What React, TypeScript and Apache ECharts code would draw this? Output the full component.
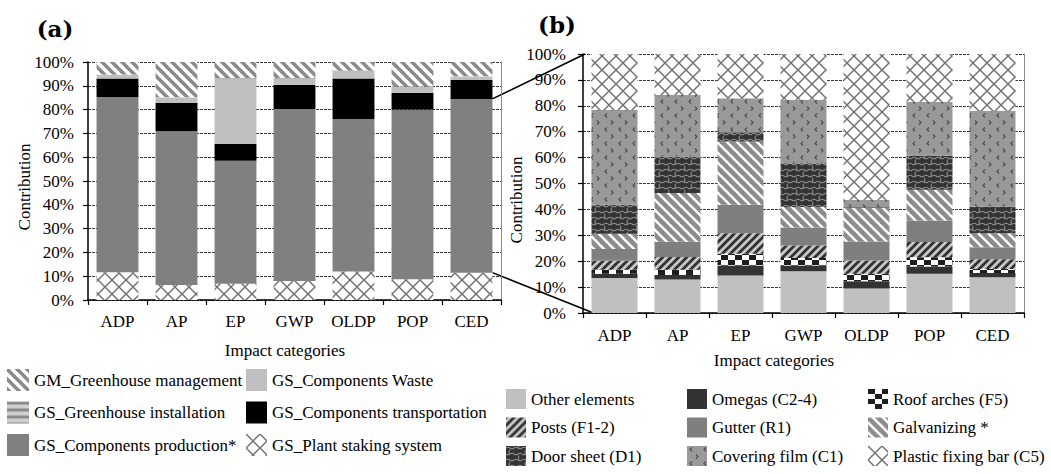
import React, { useEffect, useRef } from "react";
import * as echarts from "echarts";

// Impact categories shared by both panels
const categories = ["ADP", "AP", "EP", "GWP", "OLDP", "POP", "CED"];

// Panel (a): greenhouse stages, % of each impact category
const plantStaking = [11.7, 6.3, 6.8, 8.0, 12.0, 8.7, 11.5];
const componentsProduction = [73.6, 64.6, 51.7, 72.3, 64.0, 71.3, 73.0];
const componentsTransport = [7.8, 11.9, 7.2, 10.0, 17.1, 7.0, 7.9];
const componentsWaste = [1.4, 2.2, 27.4, 2.8, 3.1, 2.5, 1.4];
const greenhouseInstallation = [0.2, 0.2, 0.2, 0.2, 0.2, 0.2, 0.2];
const greenhouseManagement = [5.3, 14.8, 6.7, 6.7, 3.6, 10.3, 6.0];

// Panel (b): breakdown of components production, %
const otherElements = [13.5, 12.9, 14.5, 16.1, 9.5, 15.2, 13.8];
const omegas = [1.7, 1.8, 3.8, 2.2, 2.8, 2.8, 1.6];
const roofArches = [1.5, 2.0, 4.6, 2.9, 2.9, 3.5, 1.6];
const posts = [3.5, 4.9, 7.9, 4.9, 5.1, 5.9, 3.8];
const gutter = [4.5, 5.9, 11.0, 6.9, 7.3, 8.3, 4.6];
const galvanizing = [5.9, 18.8, 24.4, 7.9, 12.9, 11.9, 5.4];
const doorSheet = [11.2, 14.1, 3.6, 16.9, 0.3, 13.1, 10.3];
const coveringFilm = [36.6, 23.8, 13.1, 24.5, 2.9, 20.9, 36.9];
const plasticFixingBar = [21.6, 15.8, 17.1, 17.7, 56.3, 18.4, 22.0];

const FONT = "Liberation Serif";
const TITLE_FONT = "DejaVu Serif";
const FONT_SIZE = 17;

type Paint = (ctx: CanvasRenderingContext2D, w: number, h: number) => void;

function pattern(w: number, h: number, paint: Paint) {
  const c = document.createElement("canvas");
  c.width = w;
  c.height = h;
  const ctx = c.getContext("2d") as CanvasRenderingContext2D;
  paint(ctx, w, h);
  return { image: c.toDataURL(), repeat: "repeat", imageWidth: w, imageHeight: h };
}

function back(ctx: CanvasRenderingContext2D, w: number, h: number, color: string) {
  ctx.fillStyle = color;
  ctx.fillRect(0, 0, w, h);
}

// "\" stripes
function backslash(ctx: CanvasRenderingContext2D, w: number, color: string, lw: number, shift = 0) {
  ctx.strokeStyle = color;
  ctx.lineWidth = lw;
  for (const c of [-w, 0, w]) {
    ctx.beginPath();
    ctx.moveTo(c + shift - w, -w);
    ctx.lineTo(c + shift + 2 * w, 2 * w);
    ctx.stroke();
  }
}

// "/" stripes
function slash(ctx: CanvasRenderingContext2D, w: number, color: string, lw: number, shift = 0) {
  ctx.strokeStyle = color;
  ctx.lineWidth = lw;
  for (const c of [0, w, 2 * w]) {
    ctx.beginPath();
    ctx.moveTo(c + shift + w, -w);
    ctx.lineTo(c + shift - 2 * w, 2 * w);
    ctx.stroke();
  }
}

function lattice() {
  return pattern(14, 14, (ctx, w, h) => {
    back(ctx, w, h, "#ffffff");
    backslash(ctx, w, "#727272", 1.5);
    slash(ctx, w, "#727272", 1.5);
  });
}

function buildFills() {
  return {
    management: pattern(10, 10, (ctx, w, h) => {
      back(ctx, w, h, "#ffffff");
      backslash(ctx, w, "#8a8a8a", 3.6);
    }),
    installation: pattern(2, 7, (ctx, w, h) => {
      back(ctx, w, h, "#cfcfcf");
      ctx.fillStyle = "#8a8a8a";
      ctx.fillRect(0, 0, w, 3);
    }),
    staking: lattice(),
    plastic: lattice(),
    galvanizing: pattern(10, 10, (ctx, w, h) => {
      back(ctx, w, h, "#ffffff");
      backslash(ctx, w, "#8c8c8c", 4.6);
    }),
    posts: pattern(8, 8, (ctx, w, h) => {
      back(ctx, w, h, "#b2b2b2");
      slash(ctx, w, "#2e2e2e", 2.6);
      slash(ctx, w, "#f0f0f0", 0.8, w / 2);
    }),
    roof: pattern(14, 10, (ctx, w, h) => {
      back(ctx, w, h, "#ffffff");
      ctx.fillStyle = "#1e1e1e";
      ctx.fillRect(0, 0, 7, 5);
      ctx.fillRect(7, 5, 7, 5);
    }),
    door: pattern(16, 12, (ctx, w, h) => {
      back(ctx, w, h, "#333333");
      ctx.strokeStyle = "#8e8e8e";
      ctx.lineWidth = 1.1;
      ctx.beginPath();
      ctx.moveTo(0, 2);
      ctx.bezierCurveTo(3, -1, 5, 5, 8, 2);
      ctx.bezierCurveTo(11, -1, 13, 5, 16, 2);
      ctx.moveTo(4, 3.5);
      ctx.quadraticCurveTo(2, 6, 4, 8.5);
      ctx.moveTo(0, 8);
      ctx.bezierCurveTo(3, 11, 5, 5, 8, 8);
      ctx.bezierCurveTo(11, 11, 13, 5, 16, 8);
      ctx.moveTo(12, 9.5);
      ctx.quadraticCurveTo(14, 12, 12, 14);
      ctx.moveTo(12, -2.5);
      ctx.quadraticCurveTo(14, 0, 12, 2);
      ctx.stroke();
    }),
    covering: pattern(14, 14, (ctx, w, h) => {
      back(ctx, w, h, "#999999");
      ctx.strokeStyle = "#4c4c4c";
      ctx.lineWidth = 1.1;
      ctx.beginPath();
      ctx.moveTo(5, 1.5);
      ctx.lineTo(3, 3.5);
      ctx.lineTo(5, 5.5);
      ctx.moveTo(9, 8.5);
      ctx.lineTo(11, 10.5);
      ctx.lineTo(9, 12.5);
      ctx.stroke();
    }),
  };
}

export default function App() {
  const ref = useRef<HTMLDivElement>(null);

  useEffect(() => {
    if (!ref.current) return;
    const chart = echarts.init(ref.current, undefined, { renderer: "svg" });
    const f = buildFills();

    const textStyle = { fontFamily: FONT, fontSize: FONT_SIZE, color: "#000" };
    const dashed = { show: true, lineStyle: { type: [3, 1], color: "#3a3a3a", width: 1 } };

    const catAxis = (gridIndex: number, margin: number) => ({
      type: "category",
      gridIndex,
      data: categories,
      axisLine: { show: true, lineStyle: { color: "#000", width: 1.5 } },
      axisTick: { show: true, length: 5, lineStyle: { color: "#000", width: 1.2 } },
      axisLabel: { ...textStyle, margin },
      splitLine: { show: false },
    });
    const pctAxis = (gridIndex: number, margin: number) => ({
      type: "value",
      gridIndex,
      min: 0,
      max: 100,
      interval: 10,
      axisLine: { show: true, lineStyle: { color: "#000", width: 1.5 } },
      axisTick: { show: true, length: 5, lineStyle: { color: "#000", width: 1.2 } },
      axisLabel: { ...textStyle, margin, formatter: "{value}%" },
      splitLine: dashed,
    });
    const borderAxis = (gridIndex: number) => ({
      type: "value",
      gridIndex,
      position: "right",
      min: 0,
      max: 100,
      axisLine: { show: true, lineStyle: { color: "#8c8c8c", width: 1 } },
      axisTick: { show: false },
      axisLabel: { show: false },
      splitLine: { show: false },
    });

    const barA = (name: string, data: number[], color: any) => ({
      name,
      type: "bar",
      stack: "a",
      xAxisIndex: 0,
      yAxisIndex: 0,
      barCategoryGap: "29%",
      data,
      itemStyle: { color },
      emphasis: { disabled: true },
    });
    const barB = (name: string, data: number[], color: any) => ({
      name,
      type: "bar",
      stack: "b",
      xAxisIndex: 1,
      yAxisIndex: 1,
      barCategoryGap: "27%",
      data,
      itemStyle: { color },
      emphasis: { disabled: true },
    });

    const legendBase = {
      orient: "vertical",
      padding: 0,
      icon: "rect",
      selectedMode: false,
      textStyle: { ...textStyle },
    };

    chart.setOption({
      animation: false,
      backgroundColor: "#ffffff",
      grid: [
        { left: 88, top: 62, width: 413, height: 238, containLabel: false, outerBoundsMode: "none" },
        { left: 583, top: 54, width: 441, height: 259, containLabel: false, outerBoundsMode: "none" },
      ],
      xAxis: [catAxis(0, 13), catAxis(1, 14)],
      yAxis: [pctAxis(0, 14), pctAxis(1, 17), borderAxis(0), borderAxis(1)],
      legend: [
        {
          ...legendBase, left: 7, top: 369, itemWidth: 22, itemHeight: 22, itemGap: 10.5,
          data: ["GM_Greenhouse management", "GS_Greenhouse installation", "GS_Components production*"],
        },
        {
          ...legendBase, left: 246, top: 369, itemWidth: 21, itemHeight: 22, itemGap: 10.5,
          data: ["GS_Components Waste", "GS_Components transportation", "GS_Plant staking system"],
        },
        {
          ...legendBase, left: 506, top: 389, itemWidth: 20, itemHeight: 20, itemGap: 8.5,
          data: ["Other elements", "Posts (F1-2)", "Door sheet (D1)"],
        },
        {
          ...legendBase, left: 687, top: 389, itemWidth: 20, itemHeight: 20, itemGap: 8.5,
          data: ["Omegas (C2-4)", "Gutter (R1)", "Covering film (C1)"],
        },
        {
          ...legendBase, left: 868, top: 389, itemWidth: 20, itemHeight: 20, itemGap: 8.5,
          data: ["Roof arches (F5)", "Galvanizing *", "Plastic fixing bar (C5)"],
        },
      ],
      series: [
        barA("GS_Plant staking system", plantStaking, f.staking),
        barA("GS_Components production*", componentsProduction, "#808080"),
        barA("GS_Components transportation", componentsTransport, "#000000"),
        barA("GS_Components Waste", componentsWaste, "#bfbfbf"),
        barA("GS_Greenhouse installation", greenhouseInstallation, f.installation),
        barA("GM_Greenhouse management", greenhouseManagement, f.management),

        barB("Other elements", otherElements, "#c0c0c0"),
        barB("Omegas (C2-4)", omegas, "#333333"),
        barB("Roof arches (F5)", roofArches, f.roof),
        barB("Posts (F1-2)", posts, f.posts),
        barB("Gutter (R1)", gutter, "#7f7f7f"),
        barB("Galvanizing *", galvanizing, f.galvanizing),
        barB("Door sheet (D1)", doorSheet, f.door),
        barB("Covering film (C1)", coveringFilm, f.covering),
        barB("Plastic fixing bar (C5)", plasticFixingBar, f.plastic),
      ],
    });

    // Connectors from the production block of CED in (a) to the full-height axis of (b)
    const last = categories.length - 1;
    const a1 = chart.convertToPixel({ xAxisIndex: 0, yAxisIndex: 0 }, [last, plantStaking[last] + componentsProduction[last]]) as number[];
    const a0 = chart.convertToPixel({ xAxisIndex: 0, yAxisIndex: 0 }, [last, plantStaking[last]]) as number[];
    const aPrev = chart.convertToPixel({ xAxisIndex: 0, yAxisIndex: 0 }, [last - 1, 0]) as number[];
    const bandA = a1[0] - aPrev[0];
    const edgeA = a1[0] + (bandA * 0.71) / 2;
    const b100 = chart.convertToPixel({ xAxisIndex: 1, yAxisIndex: 1 }, [0, 100]) as number[];
    const b0 = chart.convertToPixel({ xAxisIndex: 1, yAxisIndex: 1 }, [0, 0]) as number[];
    const bNext = chart.convertToPixel({ xAxisIndex: 1, yAxisIndex: 1 }, [1, 0]) as number[];
    const bandB = bNext[0] - b0[0];
    const axisB = b0[0] - bandB / 2;
    const barLeftB = b0[0] - (bandB * 0.73) / 2;

    const title = (text: string, x: number, y: number) => ({
      type: "text", x, y,
      style: { text, fontFamily: TITLE_FONT, fontSize: 23, fontWeight: "bold", fill: "#000", align: "center", verticalAlign: "middle" },
    });
    const label = (text: string, x: number, y: number, rotation = 0) => ({
      type: "text", x, y, rotation,
      style: { text, fontFamily: FONT, fontSize: FONT_SIZE, fill: "#000", align: "center", verticalAlign: "middle" },
    });

    chart.setOption({
      graphic: [
        title("(a)", 55, 28),
        title("(b)", 557, 24),
        label("Contribution", 24, 187, Math.PI / 2),
        label("Contribution", 516, 200, Math.PI / 2),
        label("Impact categories", 285, 350),
        label("Impact categories", 774, 360),
        {
          type: "line", silent: true,
          shape: { x1: edgeA, y1: a1[1], x2: axisB + 2, y2: b100[1] },
          style: { stroke: "#000", lineWidth: 1.6 },
        },
        {
          type: "line", silent: true,
          shape: { x1: edgeA, y1: a0[1], x2: barLeftB + 2, y2: b0[1] },
          style: { stroke: "#000", lineWidth: 1.6 },
        },
      ],
    });

    return () => chart.dispose();
  }, []);

  return (
    <div
      ref={ref}
      style={{ position: "fixed", left: 0, top: 0, width: 1051, height: 474, background: "#fff" }}
    />
  );
}
